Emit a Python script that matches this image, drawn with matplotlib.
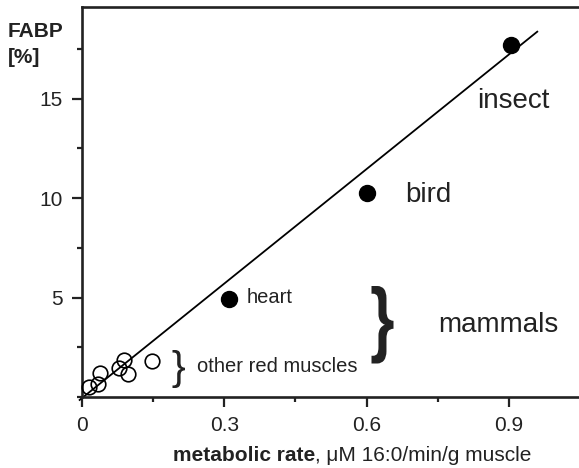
import matplotlib
matplotlib.use("Agg")
import matplotlib.pyplot as plt
from matplotlib.ticker import MultipleLocator
from matplotlib.textpath import TextPath
from matplotlib.patches import PathPatch
from matplotlib.font_manager import FontProperties
from matplotlib.transforms import Affine2D, IdentityTransform

plt.rcParams['font.family'] = ['Liberation Sans', 'DejaVu Sans']

# filled points: insect, bird, heart
filled_x = [0.905, 0.601, 0.310]
filled_y = [17.7, 10.25, 4.92]

# open points: other red muscles
open_x = [0.015, 0.034, 0.038, 0.077, 0.089, 0.098, 0.148]
open_y = [0.52, 0.64, 1.19, 1.47, 1.86, 1.14, 1.81]

# regression line end points
fit_x = [-0.005, 0.96]
fit_y = [-0.15, 18.36]

x_ticks = [0, 0.3, 0.6, 0.9]
x_ticklabels = ['0', '0.3', '0.6', '0.9']
y_ticks = [5, 10, 15]
y_ticklabels = ['5', '10', '15']

INK = '#222222'
W, H = 579, 468

fig = plt.figure(figsize=(W / 100, H / 100), dpi=100)
ax = fig.add_axes([82 / W, 71 / H, 497 / W, 390 / H])

ax.plot(fit_x, fit_y, color='black', lw=1.3, clip_on=False, zorder=2)
ax.plot(filled_x, filled_y, 'o', color='black', ms=11.5, clip_on=False, zorder=3)
ax.plot(open_x, open_y, 'o', mfc='none', mec='black', mew=1.2, ms=10.5,
        clip_on=False, zorder=3)

ax.set_xlim(0, 1.048)
ax.set_ylim(0, 19.6)

ax.set_xticks(x_ticks)
ax.set_xticklabels(x_ticklabels)
ax.set_yticks(y_ticks)
ax.set_yticklabels(y_ticklabels)
ax.xaxis.set_minor_locator(MultipleLocator(0.15))
ax.yaxis.set_minor_locator(MultipleLocator(2.5))
ax.tick_params(which='major', direction='out', length=7, width=1.6,
               labelsize=15, pad=7, colors=INK)
ax.tick_params(which='minor', direction='out', length=3.5, width=1.6, colors=INK)

ax.spines['right'].set_visible(False)
for s in ['left', 'top', 'bottom']:
    ax.spines[s].set_linewidth(1.9)
    ax.spines[s].set_color(INK)

# labels
ax.text(0.833, 14.5, 'insect', fontsize=20, color=INK)
ax.text(0.681, 9.81, 'bird', fontsize=20, color=INK)
ax.text(0.347, 4.72, 'heart', fontsize=14.5, color=INK)
ax.text(0.242, 1.27, 'other red muscles', fontsize=14.5, color=INK)
ax.text(0.751, 3.28, 'mammals', fontsize=20, color=INK)


def brace(x0, y0, x1, y1, weight):
    # '}' glyph stretched into a pixel box (top-down image coords)
    tp = TextPath((0, 0), '}', size=100,
                  prop=FontProperties(family='Liberation Sans', weight=weight))
    ext = tp.get_extents()
    tr = (Affine2D().translate(-ext.x0, -ext.y0)
          .scale((x1 - x0) / ext.width, (y1 - y0) / ext.height)
          .translate(x0, H - y1))
    p = PathPatch(tr.transform_path(tp), transform=IdentityTransform(),
                  fc=INK, ec='none')
    fig.add_artist(p)


brace(172.5, 350, 185, 388, 'normal')
brace(371.5, 286, 393.5, 363.5, 'bold')

# axis titles
fig.text(8 / W, 1 - 37 / H, 'FABP', fontsize=15, fontweight='bold', color=INK)
fig.text(8 / W, 1 - 63 / H, '[%]', fontsize=15, fontweight='bold', color=INK)
t = fig.text(173 / W, 1 - 461 / H, 'metabolic rate', fontsize=15,
             fontweight='bold', color=INK)
fig.canvas.draw()
bb = t.get_window_extent()
fig.text(bb.x1 / fig.bbox.width, 1 - 461 / H, ', μM 16:0/min/g muscle',
         fontsize=15, color=INK)

fig.savefig('out.png', dpi=100)
